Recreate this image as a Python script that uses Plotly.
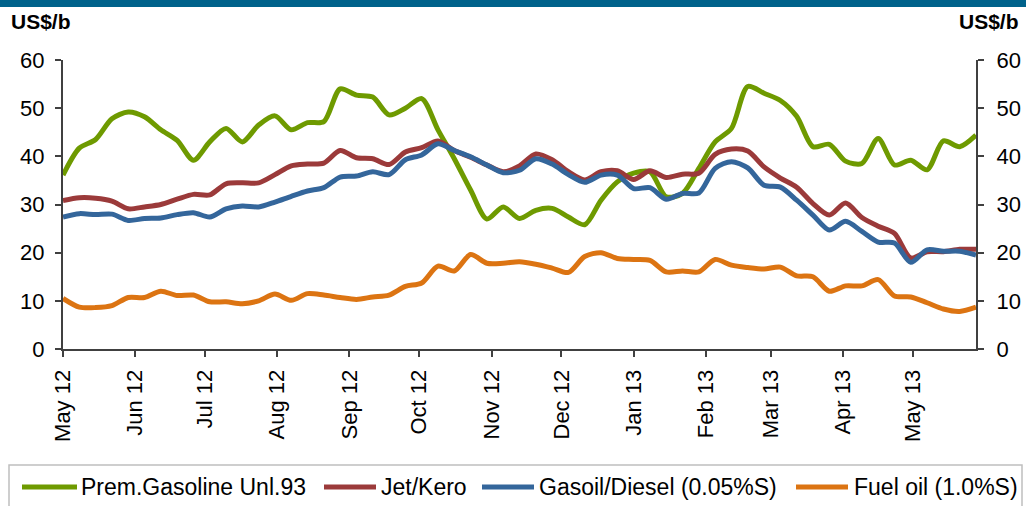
import pandas as pd
import plotly.graph_objects as go

# Weekly product prices, US$/b
dates = pd.date_range("2012-05-01", periods=57, freq="7D")

gasoline = [36.1, 41.7, 43.5, 47.8, 49.2, 48.2, 45.5, 43.3, 39.2, 43.0,
            45.8, 43.0, 46.5, 48.4, 45.5, 47.0, 47.2, 54.0, 52.7, 52.3,
            48.6, 50.0, 52.0, 45.5, 39.5, 33.0, 27.0, 29.5, 27.1, 28.8,
            29.2, 27.4, 25.8, 30.9, 34.7, 36.5, 36.8, 31.6, 32.3, 37.5,
            43.0, 45.8, 54.5, 53.1, 51.6, 48.3, 42.0, 42.5, 39.0, 38.5,
            43.7, 38.2, 39.2, 37.2, 43.2, 42.0, 44.4]

jet_kero = [30.8, 31.4, 31.3, 30.7, 29.1, 29.5, 30.0, 31.1, 32.1, 32.0,
            34.3, 34.5, 34.5, 36.2, 38.0, 38.4, 38.6, 41.2, 39.7, 39.5,
            38.3, 40.9, 41.8, 43.2, 41.2, 39.8, 38.2, 36.8, 38.0, 40.5,
            39.3, 36.8, 35.1, 36.8, 37.0, 35.2, 37.0, 35.6, 36.3, 36.5,
            40.4, 41.5, 41.1, 37.8, 35.5, 33.6, 30.2, 27.8, 30.3, 27.3,
            25.5, 24.0, 18.9, 20.2, 20.2, 20.7, 20.7]

gasoil = [27.4, 28.1, 27.9, 28.0, 26.7, 27.1, 27.2, 27.9, 28.3, 27.4,
          29.1, 29.7, 29.5, 30.5, 31.7, 32.8, 33.5, 35.7, 35.9, 36.8,
          36.2, 39.3, 40.3, 42.6, 41.2, 39.9, 38.2, 36.6, 37.1, 39.5,
          38.4, 36.2, 34.6, 36.1, 36.1, 33.3, 33.5, 31.1, 32.3, 32.4,
          37.5, 38.9, 37.6, 34.0, 33.6, 30.9, 27.8, 24.7, 26.5, 24.4,
          22.2, 22.0, 18.0, 20.6, 20.3, 20.3, 19.5]

fuel_oil = [10.5, 8.7, 8.6, 9.0, 10.7, 10.7, 12.0, 11.1, 11.2, 9.8,
            9.8, 9.4, 10.0, 11.4, 10.1, 11.5, 11.2, 10.7, 10.3, 10.8,
            11.2, 13.0, 13.7, 17.2, 16.2, 19.6, 17.8, 17.8, 18.1, 17.6,
            16.8, 15.9, 19.2, 20.0, 18.8, 18.6, 18.4, 16.0, 16.2, 16.0,
            18.6, 17.4, 16.9, 16.6, 17.0, 15.2, 15.0, 12.0, 13.1, 13.1,
            14.4, 11.0, 10.8, 9.6, 8.3, 7.8, 8.7]

series_names = ["Prem.Gasoline Unl.93", "Jet/Kero",
                "Gasoil/Diesel (0.05%S)", "Fuel oil (1.0%S)"]
series_values = [gasoline, jet_kero, gasoil, fuel_oil]
series_colors = ["#6E9A00", "#9B3A3A", "#34669B", "#DC7412"]

y_ticks = [0, 10, 20, 30, 40, 50, 60]

FONT = "Liberation Sans, Arial, sans-serif"
AXIS_COLOR = "#404040"

W, H = 1026, 506
ML, MR, MT, MB = 63, 50, 60, 157
PW, PH = W - ML - MR, H - MT - MB


def px_x(px):
    """Pixel column -> paper x."""
    return (px - ML) / PW


def px_y(py):
    """Pixel row -> paper y."""
    return (H - MB - py) / PH


fig = go.Figure()
for name, vals, col in zip(series_names, series_values, series_colors):
    fig.add_trace(go.Scatter(
        x=dates, y=vals, name=name, mode="lines", showlegend=False,
        line=dict(color=col, width=5, shape="spline", smoothing=0.8),
    ))

# mirror trace so the right-hand value axis is drawn
fig.add_trace(go.Scatter(x=dates, y=fuel_oil, yaxis="y2", mode="lines",
                         line=dict(width=0), opacity=0, showlegend=False,
                         hoverinfo="skip"))

axis_common = dict(
    ticks="outside", ticklen=6, tickwidth=2, tickcolor=AXIS_COLOR,
    showline=True, linecolor=AXIS_COLOR, linewidth=2, showgrid=False,
    zeroline=False, automargin=False,
)

# legend row: sample line spans and label starts (pixel columns)
legend_lines = [(22, 77), (324, 376), (482, 534), (796, 848)]
legend_text_x = [80, 380, 538, 853]
legend_row_y = 487

shapes = [
    # header band
    dict(type="rect", xref="paper", yref="paper", x0=px_x(-20),
         x1=px_x(W + 20), y0=px_y(7), y1=px_y(-20), fillcolor="#00628B",
         line=dict(width=0), layer="below"),
    # legend frame
    dict(type="rect", xref="paper", yref="paper", x0=px_x(9),
         x1=px_x(1022), y0=px_y(H + 20), y1=px_y(465),
         fillcolor="rgba(0,0,0,0)", line=dict(color="#BFBFBF", width=1.5)),
]
annotations = [
    dict(text="<b>US$/b</b>", xref="paper", yref="paper", x=px_x(9),
         y=px_y(22), xanchor="left", yanchor="middle", showarrow=False,
         font=dict(size=21, family=FONT)),
    dict(text="<b>US$/b</b>", xref="paper", yref="paper", x=px_x(1021),
         y=px_y(22), xanchor="right", yanchor="middle", showarrow=False,
         font=dict(size=21, family=FONT)),
]
for (x0, x1), tx, name, col in zip(legend_lines, legend_text_x,
                                    series_names, series_colors):
    shapes.append(dict(type="line", xref="paper", yref="paper",
                       x0=px_x(x0), x1=px_x(x1), y0=px_y(legend_row_y),
                       y1=px_y(legend_row_y),
                       line=dict(color=col, width=5)))
    annotations.append(dict(text=name, xref="paper", yref="paper",
                            x=px_x(tx), y=px_y(legend_row_y),
                            xanchor="left", yanchor="middle",
                            showarrow=False, borderpad=0,
                            font=dict(size=23, family=FONT)))

fig.update_layout(
    width=W, height=H,
    margin=dict(l=ML, r=MR, t=MT, b=MB),
    paper_bgcolor="white", plot_bgcolor="white",
    font=dict(family=FONT, color="black"),
    showlegend=False,
    xaxis=dict(
        type="date", range=["2012-05-01", "2013-05-28"],
        tick0="2012-05-01", dtick="M1", tickformat="%b %y",
        tickangle=-90, tickfont=dict(size=22, family=FONT),
        ticklabelstandoff=4, **axis_common,
    ),
    yaxis=dict(
        range=[0, 60], tickvals=y_ticks, ticklabelstandoff=6,
        tickfont=dict(size=22, family=FONT), **axis_common,
    ),
    yaxis2=dict(
        range=[0, 60], tickvals=y_ticks, overlaying="y", side="right",
        ticklabelstandoff=8, tickfont=dict(size=22, family=FONT),
        **axis_common,
    ),
    shapes=shapes,
    annotations=annotations,
)

fig.write_html("out.html")
